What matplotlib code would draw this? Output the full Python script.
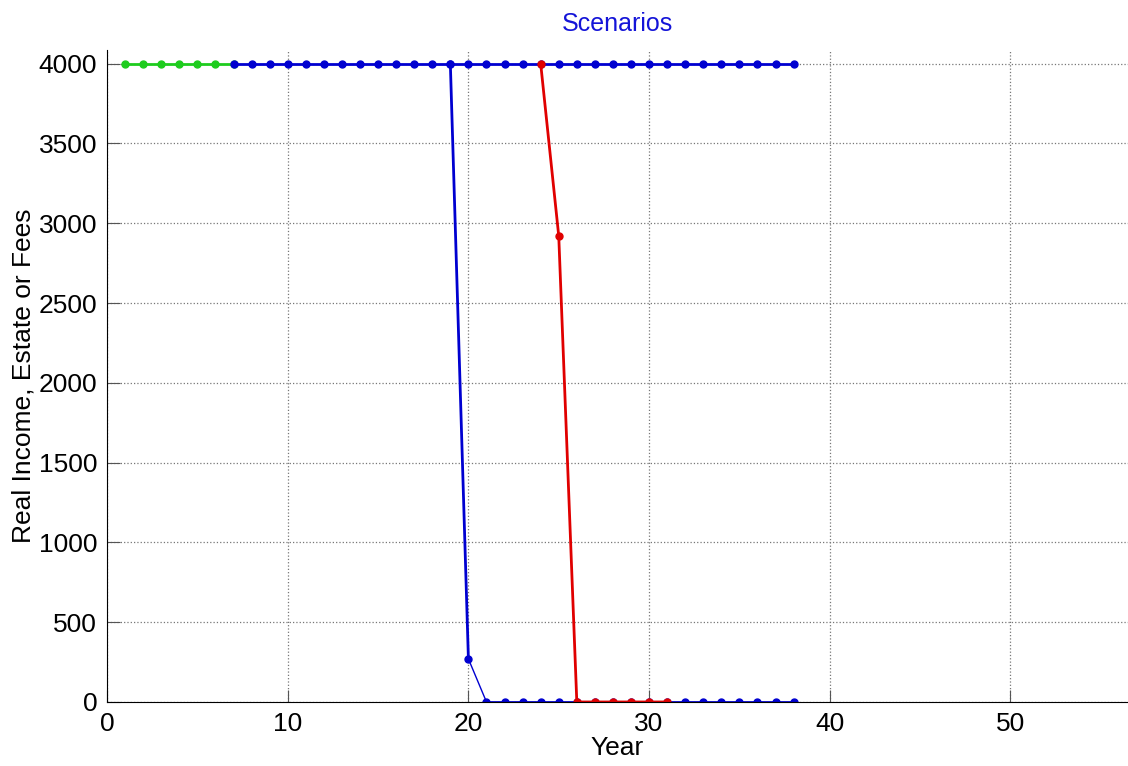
import matplotlib.pyplot as plt

# data
green_years = [1, 2, 3, 4, 5, 6, 7]
green_vals = [4000] * 7

blue_top_years = list(range(7, 39))
blue_top_vals = [4000] * len(blue_top_years)

blue_drop_years = [19, 20]
blue_drop_vals = [4000, 270]

blue_tail_years = [20, 21]
blue_tail_vals = [270, 0]

blue_zero_years = list(range(21, 39))
blue_zero_vals = [0] * len(blue_zero_years)

red_years = [24, 25, 26, 27, 28, 29, 30, 31]
red_vals = [4000, 2920, 0, 0, 0, 0, 0, 0]

xticks = [0, 10, 20, 30, 40, 50]
yticks = [0, 500, 1000, 1500, 2000, 2500, 3000, 3500, 4000]

plt.rcParams['font.family'] = ['Liberation Sans', 'DejaVu Sans']

fig = plt.figure(figsize=(11.28, 7.66), dpi=100)
ax = fig.add_axes([0.0949, 0.0836, 0.905, 0.851])

blue = '#0000d0'
ax.plot(green_years, green_vals, '-o', color='#1ecc1e', lw=2, ms=5)
ax.plot(blue_top_years, blue_top_vals, '-o', color=blue, lw=2, ms=5)
ax.plot(blue_drop_years, blue_drop_vals, '-o', color=blue, lw=2, ms=5)
ax.plot(blue_tail_years, blue_tail_vals, '-', color=blue, lw=1)
ax.plot(blue_zero_years, blue_zero_vals, '-o', color=blue, lw=2, ms=5)
ax.plot(red_years, red_vals, '-o', color='#e00000', lw=2, ms=5)

ax.set_xlim(0, 56.5)
ax.set_ylim(0, 4085)
ax.set_xticks(xticks)
ax.set_yticks(yticks)
ax.grid(True, linestyle=':', color='#777777', lw=0.9)
ax.tick_params(direction='in', length=9, labelsize=19, pad=7, color='#555555')
ax.spines['top'].set_visible(False)
ax.spines['right'].set_visible(False)

ax.set_xlabel('Year', fontsize=19, labelpad=0)
ax.set_ylabel('Real Income, Estate or Fees', fontsize=19, labelpad=2)
ax.set_title('Scenarios', fontsize=18, color='#1414d8', pad=14)

fig.savefig('out.png', dpi=100)
